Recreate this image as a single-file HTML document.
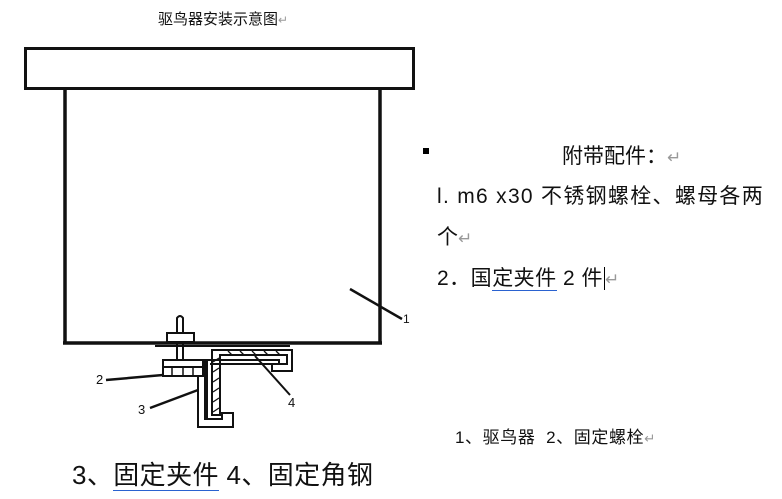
<!DOCTYPE html>
<html><head><meta charset="utf-8"><style>
body{margin:0;background:#fff;width:782px;height:499px;overflow:hidden;position:relative;font-family:"Liberation Sans","Noto Sans CJK SC",sans-serif;color:#111}
.t{position:absolute;white-space:nowrap}
.r{color:#999;font-size:0.8em}
u{text-decoration:none;border-bottom:1.5px solid #2a62d0}
</style></head><body>
<svg width="782" height="499" style="position:absolute;left:0;top:0" fill="none" stroke="#111">
<rect x="25.5" y="48.5" width="388" height="40" stroke-width="3"/>
<line x1="65" y1="90" x2="65" y2="343" stroke-width="3.5"/>
<line x1="380" y1="88" x2="380" y2="343" stroke-width="3.5"/>
<line x1="63" y1="343" x2="382" y2="343" stroke-width="3.5"/>
<line x1="350" y1="289" x2="402" y2="319" stroke-width="2.5"/>
<path d="M177,333 V318 Q180,314 183,318 V333" stroke-width="2"/>
<rect x="167" y="333" width="27" height="9" stroke-width="2"/>
<path d="M155,346 H290" stroke-width="2"/>
<rect x="163" y="360" width="40" height="7" stroke-width="2"/>
<rect x="163" y="367" width="40" height="9" stroke-width="2"/>
<line x1="172" y1="367" x2="172" y2="376" stroke-width="1.5"/>
<line x1="183" y1="367" x2="183" y2="376" stroke-width="1.5"/>
<line x1="193" y1="367" x2="193" y2="376" stroke-width="1.5"/>
<line x1="177" y1="342" x2="177" y2="360" stroke-width="2"/>
<line x1="183" y1="342" x2="183" y2="360" stroke-width="2"/>
<path d="M198,376 V427 H233 V413 H222 V419 H207 V360 H279 V364 H210" stroke-width="2"/>
<path d="M205,359 V420" stroke-width="2"/>
<path d="M212,350 H292 V371 H272 V364 H287 V355 H220 V415 H212 Z" stroke-width="2"/>
<g stroke-width="1.3">
<path d="M213,362 L219,358 M213,372 L219,368 M213,382 L219,378 M213,392 L219,388 M213,402 L219,398 M213,412 L219,408"/>
<path d="M228,351 L232,355 M240,351 L244,355 M252,351 L256,355 M264,351 L268,355 M276,351 L280,355"/>
</g>
<line x1="106" y1="380" x2="163" y2="375" stroke-width="2.5"/>
<line x1="150" y1="408" x2="198" y2="390" stroke-width="2.5"/>
<line x1="255" y1="356" x2="290" y2="395" stroke-width="2"/>
</svg>
<div class="t" style="left:403px;top:312px;font-size:12px">1</div>
<div class="t" style="left:96px;top:372px;font-size:13px">2</div>
<div class="t" style="left:138px;top:402px;font-size:13px">3</div>
<div class="t" style="left:288px;top:395px;font-size:13px">4</div>
<div class="t" style="left:158px;top:8px;font-size:15px">驱鸟器安装示意图<span class="r">↵</span></div>
<div class="t" style="left:423px;top:148px;width:6px;height:6px;background:#000"></div>
<div class="t" style="left:562px;top:140px;font-size:21px">附带配件：<span class="r">↵</span></div>
<div class="t" style="left:437px;top:180px;font-size:21px;letter-spacing:1.3px">l. m6 x30 不锈钢螺栓、螺母各两</div>
<div class="t" style="left:437px;top:221px;font-size:21px">个<span class="r">↵</span></div>
<div class="t" style="left:437px;top:262px;font-size:21px;letter-spacing:0.5px">2．国<u>定夹件</u> 2 件<span style="border-left:1px solid #000;margin-left:1px"></span><span class="r">↵</span></div>
<div class="t" style="left:455px;top:423px;font-size:17px;letter-spacing:0.6px">1、驱鸟器&nbsp; 2、固定螺栓<span class="r">↵</span></div>
<div class="t" style="left:72px;top:455px;font-size:26px;letter-spacing:0.4px">3、<u>固定夹件</u> 4、固定角钢</div>
</body></html>
